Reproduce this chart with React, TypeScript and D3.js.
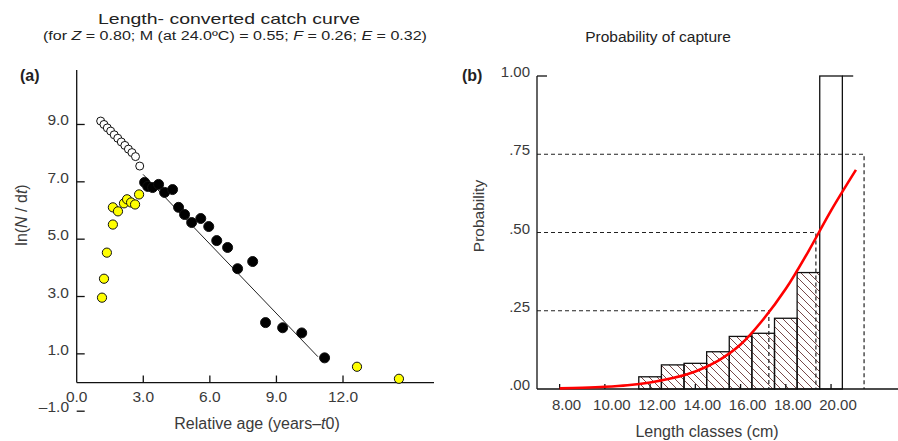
import * as d3 from 'd3';

// (a) length-converted catch curve
const openAge = [1.08, 1.23, 1.38, 1.53, 1.69, 1.85, 2.01, 2.17, 2.33, 2.49, 2.65, 2.84];
const openLn = [9.12, 9.0, 8.88, 8.77, 8.64, 8.52, 8.39, 8.27, 8.14, 8.02, 7.88, 7.55];

const usedAge = [3.06, 3.2, 3.42, 3.69, 3.96, 4.32, 4.59, 4.86, 5.18, 5.59, 5.95, 6.31, 6.8, 7.25, 7.93, 8.51, 9.28, 10.14, 11.17];
const usedLn = [6.98, 6.84, 6.8, 6.91, 6.63, 6.73, 6.11, 5.86, 5.58, 5.72, 5.44, 4.95, 4.71, 3.97, 4.22, 2.09, 1.91, 1.73, 0.86];

const skipAge = [1.14, 1.23, 1.36, 1.63, 1.63, 1.86, 2.13, 2.27, 2.45, 2.63, 2.81, 12.63, 14.52];
const skipLn = [2.96, 3.62, 4.53, 5.51, 6.11, 5.97, 6.25, 6.39, 6.28, 6.21, 6.56, 0.55, 0.13];

const regAge = [2.99, 10.87];
const regLn = [7.26, 0.9];

const xTicksA = [0, 3, 6, 9, 12];
const yTicksA = [-1, 1, 3, 5, 7, 9];

// (b) probability of capture
const classMid = [12, 13, 14, 15, 16, 17, 18, 19, 20];
const captureProb = [0.039, 0.077, 0.082, 0.119, 0.168, 0.178, 0.226, 0.372, 1.0];

const curveLen = [8, 9, 10, 11, 12, 13, 14, 15, 16, 17, 18, 19, 20, 21.1];
const curveProb = [0.002, 0.004, 0.007, 0.012, 0.021, 0.035, 0.056, 0.09, 0.142, 0.222, 0.32, 0.44, 0.57, 0.7];

const lcLevels = [0.25, 0.5, 0.75];
const lcLengths = [17.25, 19.33, 21.46];

const xTicksB = [8, 10, 12, 14, 16, 18, 20];
const yTicksB = [0, 0.25, 0.5, 0.75, 1];
const yTickLabelsB = ['.00', '.25', '.50', '.75', '1.00'];

const FONT = "'Liberation Sans', Arial, sans-serif";
const TICK = '#3a3a3a';

export default function App() {
  const xA = d3.scaleLinear().domain([0, 16.1]).range([76.7, 434]);
  const yA = d3.scaleLinear().domain([-1, 10.9]).range([411.2, 70]);

  const xB = d3.scaleLinear().domain([7, 22.96]).range([537, 898]);
  const yB = d3.scaleLinear().domain([0, 1]).range([389, 76]);

  const curve = d3
    .line<number>()
    .x((d, i) => xB(curveLen[i]))
    .y((d) => yB(d))
    .curve(d3.curveCatmullRom);

  const bw = xB(1) - xB(0);

  return (
    <svg
      width={898}
      height={441}
      style={{ position: 'absolute', left: 0, top: 0, background: '#fff' }}
      fontFamily={FONT}
    >
      <defs>
        <pattern id="hatch" patternUnits="userSpaceOnUse" width={8} height={8}>
          <path d="M-1,-1L9,9M-1,7L1,9M7,-1L9,1" stroke="#6a3434" strokeWidth={0.9} />
        </pattern>
      </defs>

      {/* ---------- panel (a) ---------- */}
      <text x={229} y={24} textAnchor="middle" fontSize={15} fill="#222" textLength={262} lengthAdjust="spacingAndGlyphs">
        Length- converted  catch  curve
      </text>
      <text x={235} y={40} textAnchor="middle" fontSize={12.5} fill="#222" textLength={384} lengthAdjust="spacingAndGlyphs">
        (for <tspan fontStyle="italic">Z</tspan> = 0.80; M (at 24.0ºC) = 0.55; <tspan fontStyle="italic">F</tspan> = 0.26;{' '}
        <tspan fontStyle="italic">E</tspan> = 0.32)
      </text>
      <text x={20} y={81} fontSize={16} fontWeight="bold" fill="#222">(a)</text>

      <line x1={xA(0)} x2={xA(0)} y1={yA(10.9)} y2={yA(0)} stroke="#111" strokeWidth={1.3} />
      <line x1={xA(0)} x2={xA(16.1)} y1={yA(0)} y2={yA(0)} stroke="#111" strokeWidth={1.3} />
      {yTicksA.map((t) => (
        <g key={'ya' + t}>
          <line x1={xA(0)} x2={xA(0) + 8} y1={yA(t)} y2={yA(t)} stroke="#111" strokeWidth={1.3} />
          <text x={69} y={yA(t) + 1} textAnchor="end" fontSize={15.5} fill={TICK}>
            {t < 0 ? '–' + Math.abs(t).toFixed(1) : t.toFixed(1)}
          </text>
        </g>
      ))}
      {xTicksA.map((t) => (
        <g key={'xa' + t}>
          {t > 0 && <line x1={xA(t)} x2={xA(t)} y1={yA(0)} y2={yA(0) - 7} stroke="#111" strokeWidth={1.3} />}
          <text x={xA(t)} y={yA(0) + 19.5} textAnchor="middle" fontSize={15.5} fill={TICK}>
            {t.toFixed(1)}
          </text>
        </g>
      ))}
      <text x={257} y={429} textAnchor="middle" fontSize={16} fill={TICK}>
        Relative age (years–<tspan fontStyle="italic">t</tspan>0)
      </text>
      <text transform="translate(27,215) rotate(-90)" textAnchor="middle" fontSize={16} fill={TICK}>
        ln(<tspan fontStyle="italic">N</tspan> / d<tspan fontStyle="italic">t</tspan>)
      </text>

      <line x1={xA(regAge[0])} x2={xA(regAge[1])} y1={yA(regLn[0])} y2={yA(regLn[1])} stroke="#222" strokeWidth={1} />

      {openAge.map((a, i) => (
        <circle key={'o' + i} cx={xA(a)} cy={yA(openLn[i])} r={4} fill="#fff" stroke="#111" strokeWidth={1} />
      ))}
      {usedAge.map((a, i) => (
        <circle key={'u' + i} cx={xA(a)} cy={yA(usedLn[i])} r={5} fill="#000" stroke="#111" strokeWidth={1} />
      ))}
      {skipAge.map((a, i) => (
        <circle key={'s' + i} cx={xA(a)} cy={yA(skipLn[i])} r={4.6} fill="#ffff00" stroke="#111" strokeWidth={1} />
      ))}

      {/* ---------- panel (b) ---------- */}
      <text x={658} y={42} textAnchor="middle" fontSize={15.5} fill="#222">Probability of capture</text>
      <text x={462} y={81} fontSize={16} fontWeight="bold" fill="#222">(b)</text>

      {classMid.map((m, i) => (
        <rect
          key={'b' + m}
          x={xB(m) - bw / 2}
          y={yB(captureProb[i])}
          width={bw}
          height={yB(0) - yB(captureProb[i])}
          fill={captureProb[i] < 1 ? 'url(#hatch)' : '#fff'}
          stroke="#111"
          strokeWidth={1.3}
        />
      ))}
      <line x1={xB(20.5)} x2={xB(20.98)} y1={yB(1)} y2={yB(1)} stroke="#111" strokeWidth={1.3} />

      {lcLevels.map((p, i) => (
        <path
          key={'lc' + p}
          d={`M${xB(7)},${yB(p)}H${xB(lcLengths[i])}V${yB(0)}`}
          fill="none"
          stroke="#222"
          strokeWidth={1.2}
          strokeDasharray="4,3"
        />
      ))}

      <line x1={xB(7)} x2={xB(7)} y1={yB(1)} y2={yB(0)} stroke="#111" strokeWidth={1.3} />
      <line x1={xB(7)} x2={xB(22.96)} y1={yB(0)} y2={yB(0)} stroke="#111" strokeWidth={1.3} />
      {yTicksB.map((t, i) => (
        <g key={'yb' + t}>
          {t === 1 && <line x1={xB(7)} x2={xB(7) + 10} y1={yB(t)} y2={yB(t)} stroke="#111" strokeWidth={1.3} />}
          <text x={530} y={yB(t) + 1} textAnchor="end" fontSize={15} fill={TICK}>
            {yTickLabelsB[i]}
          </text>
        </g>
      ))}
      {xTicksB.map((t) => (
        <g key={'xb' + t}>
          <line x1={xB(t)} x2={xB(t)} y1={yB(0)} y2={yB(0) - 5} stroke="#111" strokeWidth={1.3} />
          <text x={xB(t) + 7} y={yB(0) + 21} textAnchor="middle" fontSize={15} fill={TICK}>
            {t.toFixed(2)}
          </text>
        </g>
      ))}

      <path d={curve(curveProb) ?? ''} fill="none" stroke="#f00" strokeWidth={2.6} />

      <text x={707} y={437} textAnchor="middle" fontSize={16} fill={TICK}>Length classes (cm)</text>
      <text transform="translate(484,216) rotate(-90)" textAnchor="middle" fontSize={15.5} fill={TICK}>Probability</text>
    </svg>
  );
}
